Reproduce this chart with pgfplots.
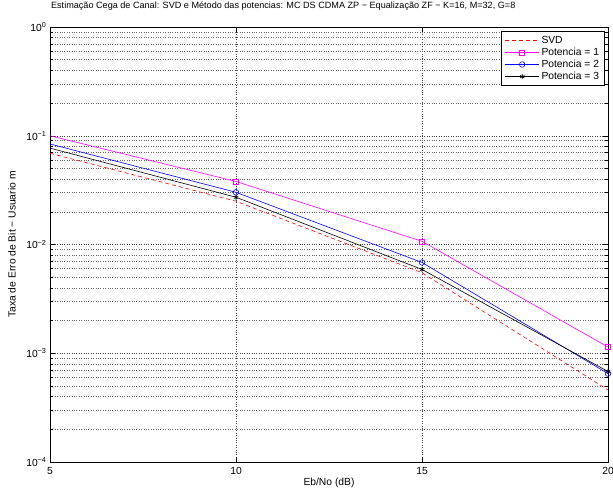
\documentclass[border=0pt]{standalone}
\usepackage{fontspec}
\setmainfont{Liberation Sans}
\usepackage{pgfplots}
\pgfplotsset{compat=1.18}
\definecolor{mag}{rgb}{1,0,1}
\definecolor{mred}{rgb}{1,0,0}
\definecolor{mblue}{rgb}{0,0,1}
\begin{document}
\begin{tikzpicture}
\begin{semilogyaxis}[
  scale only axis,
  width=558pt, height=435pt,
  xmin=5, xmax=20, ymin=1e-4, ymax=1,
  xtick={5,10,15,20},
  ytick={1e-4,1e-3,1e-2,1e-1,1},
  yticklabels={10\textsuperscript{−4},10\textsuperscript{−3},10\textsuperscript{−2},10\textsuperscript{−1},10\textsuperscript{0}},
  /pgf/number format/assume math mode=true,
  tick label style={font=\fontsize{10.3}{12}\selectfont},
  xticklabel style={yshift=-2pt},
  label style={font=\fontsize{10.3}{12}\selectfont},
  title style={font=\fontsize{9.1}{10}\selectfont, at={(axis description cs:0.418,1.0345)}, anchor=center},
  title={Estimação Cega de Canal: SVD e Método das potencias: MC DS CDMA ZP − Equalização ZF − K=16, M=32, G=8},
  xlabel={Eb/No (dB)},
  ylabel={Taxa de Erro de Bit − Usuario m},
  xlabel style={at={(axis description cs:0.5,-0.049)}, anchor=center},
  ylabel style={at={(axis description cs:-0.068,0.5)}, anchor=center},
  grid=both,
  major grid style={dotted, black!75, line width=0.5pt},
  minor grid style={dotted, black!60, line width=0.5pt},
  tick align=inside,
  tick style={black, line width=0.5pt},
  major tick length=5pt, minor tick length=3pt,
  axis line style={line width=0.7pt},
  legend style={at={(1,1)}, xshift=-3.5pt, yshift=-4pt, anchor=north east, font=\fontsize{10.3}{12.6}\selectfont,
    draw=black, line width=0.9pt, inner xsep=3pt, inner ysep=2.5pt, row sep=-0.8pt},
  legend cell align=left,
  legend image code/.code={
    \draw[mark repeat=2,mark phase=2,#1] plot coordinates {(0pt,0pt) (17pt,0pt) (34pt,0pt)};},
]
\addplot[mred, dashed, line width=0.6pt, dash pattern=on 4pt off 3pt] coordinates {(5,0.069) (10,0.025) (15,0.0055) (20,0.00046)};
\addlegendentry{SVD}
\addplot[mag, line width=0.6pt, mark=square, mark size=2.5pt, mark options={solid}, mark phase=2] coordinates {(5,0.1) (10,0.038) (15,0.0107) (20,0.00114)};
\addlegendentry{Potencia = 1}
\addplot[mblue, line width=0.6pt, mark=o, mark size=2.8pt, mark phase=2] coordinates {(5,0.084) (10,0.0302) (15,0.00684) (20,0.00065)};
\addlegendentry{Potencia = 2}
\addplot[black, line width=0.6pt, mark=asterisk, mark size=2.5pt, mark phase=2] coordinates {(5,0.077) (10,0.0272) (15,0.0059) (20,0.00068)};
\addlegendentry{Potencia = 3}
\end{semilogyaxis}
\pgfresetboundingbox
\path (-50pt,-29pt) rectangle (563pt,462pt);
\end{tikzpicture}
\end{document}
